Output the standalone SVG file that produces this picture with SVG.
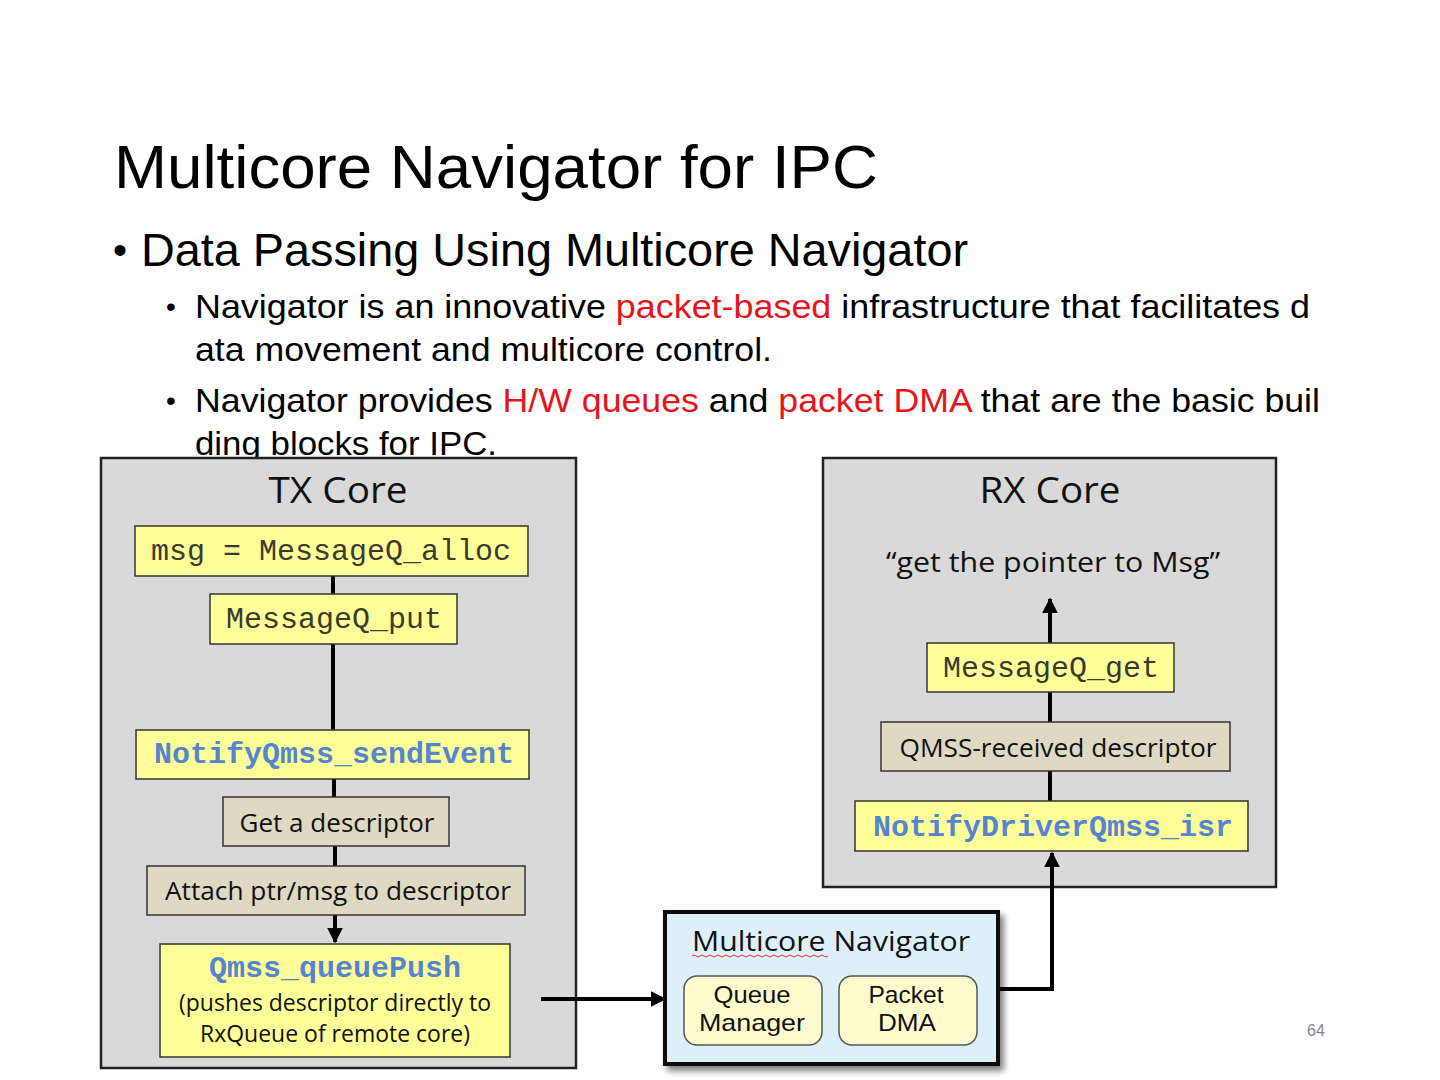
<svg xmlns="http://www.w3.org/2000/svg" width="1440" height="1080" viewBox="0 0 1440 1080">
<defs>
<style>
.slide{font-family:"Liberation Sans","Noto Sans",sans-serif;fill:#000}
.red{fill:#e8141b}
.core{fill:#d9d9d9;stroke:#222;stroke-width:2.5}
.ybox{fill:#ffff99;stroke:#333;stroke-width:1.5}
.tbox{fill:#ddd9c3;stroke:#333;stroke-width:1.5}
.mono{font-family:"Liberation Mono","Courier New",monospace;font-size:30px;fill:#3a3a2e}
.blue{font-family:"Liberation Mono","Courier New",monospace;font-size:30px;font-weight:bold;fill:#5585cf}
.cal{font-family:"Open Sans","Noto Sans",sans-serif;fill:#111}
.sm{font-family:"Liberation Sans","Noto Sans",sans-serif;font-size:24px;fill:#111}
.conn{stroke:#000;stroke-width:4;fill:none}
</style>
<marker id="ah" viewBox="0 0 10 10" refX="9" refY="5" markerWidth="4" markerHeight="4" orient="auto" markerUnits="strokeWidth">
<path d="M0,0 L10,5 L0,10 z" fill="#000"/>
</marker>
<filter id="sh" x="-10%" y="-10%" width="130%" height="130%">
<feGaussianBlur in="SourceAlpha" stdDeviation="3"/>
<feOffset dx="4" dy="5"/>
<feComponentTransfer><feFuncA type="linear" slope="0.5"/></feComponentTransfer>
<feMerge><feMergeNode/><feMergeNode in="SourceGraphic"/></feMerge>
</filter>
</defs>
<rect width="1440" height="1080" fill="#fff"/>

<g id="title">
<text class="slide" x="114" y="188" font-size="62" textLength="764" lengthAdjust="spacingAndGlyphs">Multicore Navigator for IPC</text>
</g>
<g id="bullets">
<text class="slide" x="113" y="264" font-size="40">•</text>
<text class="slide" x="141" y="266" font-size="46" textLength="827" lengthAdjust="spacingAndGlyphs">Data Passing Using Multicore Navigator</text>
<text class="slide" x="166" y="316" font-size="28">•</text>
<text class="slide" x="195" y="318" font-size="34" textLength="1115" lengthAdjust="spacingAndGlyphs">Navigator is an innovative <tspan class="red">packet-based</tspan> infrastructure that facilitates d</text>
<text class="slide" x="195" y="361" font-size="34" textLength="577" lengthAdjust="spacingAndGlyphs">ata movement and multicore control.</text>
<text class="slide" x="166" y="410" font-size="28">•</text>
<text class="slide" x="195" y="412" font-size="34" textLength="1125" lengthAdjust="spacingAndGlyphs">Navigator provides <tspan class="red">H/W queues</tspan> and <tspan class="red">packet DMA</tspan> that are the basic buil</text>
<text class="slide" x="195" y="455" font-size="34" textLength="302" lengthAdjust="spacingAndGlyphs">ding blocks for IPC.</text>
</g>

<g id="tx-core">
<rect class="core" x="101" y="458" width="475" height="610"/>
<text class="cal" x="338" y="503" font-size="36" text-anchor="middle" textLength="139" lengthAdjust="spacingAndGlyphs">TX Core</text>
</g>
<g id="rx-core">
<rect class="core" x="823" y="458" width="453" height="429"/>
<text class="cal" x="1050" y="503" font-size="36" text-anchor="middle" textLength="141" lengthAdjust="spacingAndGlyphs">RX Core</text>
<text class="cal" x="1053" y="572" font-size="28" text-anchor="middle" textLength="334" lengthAdjust="spacingAndGlyphs">“get the pointer to Msg”</text>
</g>

<g id="connectors">
<line class="conn" x1="333" y1="576" x2="333" y2="594"/>
<line class="conn" x1="333" y1="644" x2="333" y2="730"/>
<line class="conn" x1="334" y1="779" x2="334" y2="797"/>
<line class="conn" x1="335" y1="846" x2="335" y2="866"/>
<line class="conn" x1="335" y1="915" x2="335" y2="942" marker-end="url(#ah)"/>
<line class="conn" x1="541" y1="999" x2="665" y2="999" marker-end="url(#ah)"/>
<polyline class="conn" points="998,989 1052,989 1052,853" marker-end="url(#ah)"/>
<line class="conn" x1="1050" y1="801" x2="1050" y2="771"/>
<line class="conn" x1="1050" y1="722" x2="1050" y2="692"/>
<line class="conn" x1="1050" y1="643" x2="1050" y2="599" marker-end="url(#ah)"/>
</g>

<g id="alloc">
<rect class="ybox" x="135" y="526" width="393" height="50"/>
<text class="mono" x="331" y="560" text-anchor="middle">msg = MessageQ_alloc</text>
</g>
<g id="put">
<rect class="ybox" x="210" y="594" width="247" height="50"/>
<text class="mono" x="334" y="628" text-anchor="middle">MessageQ_put</text>
</g>
<g id="sendEvent">
<rect class="ybox" x="136" y="730" width="393" height="49"/>
<text class="blue" x="334" y="763" text-anchor="middle">NotifyQmss_sendEvent</text>
</g>
<g id="getdesc">
<rect class="tbox" x="223" y="797" width="226" height="49"/>
<text class="cal" x="337" y="832" font-size="26" text-anchor="middle" textLength="195" lengthAdjust="spacingAndGlyphs">Get a descriptor</text>
</g>
<g id="attach">
<rect class="tbox" x="147" y="866" width="378" height="49"/>
<text class="cal" x="338" y="900" font-size="26" text-anchor="middle" textLength="346" lengthAdjust="spacingAndGlyphs">Attach ptr/msg to descriptor</text>
</g>
<g id="queuePush">
<rect class="ybox" x="160" y="944" width="350" height="113"/>
<text class="blue" x="335" y="977" text-anchor="middle">Qmss_queuePush</text>
<text class="cal" x="335" y="1011" font-size="23" text-anchor="middle" textLength="312" lengthAdjust="spacingAndGlyphs">(pushes descriptor directly to</text>
<text class="cal" x="335" y="1042" font-size="23" text-anchor="middle" textLength="270" lengthAdjust="spacingAndGlyphs">RxQueue of remote core)</text>
</g>

<g id="navigator">
<rect x="665" y="912" width="333" height="152" fill="#ddf0fa" stroke="#111" stroke-width="4" filter="url(#sh)"/>
<text class="cal" x="831" y="951" font-size="28" text-anchor="middle" textLength="278" lengthAdjust="spacingAndGlyphs">Multicore Navigator</text>
<path d="M692,956 q2,-2 4,0 t4,0 t4,0 t4,0 t4,0 t4,0 t4,0 t4,0 t4,0 t4,0 t4,0 t4,0 t4,0 t4,0 t4,0 t4,0 t4,0 t4,0 t4,0 t4,0 t4,0 t4,0 t4,0 t4,0 t4,0 t4,0 t4,0 t4,0 t4,0 t4,0 t4,0 t4,0 t4,0 t4,0" fill="none" stroke="#e03030" stroke-width="1"/>
</g>
<g id="queue-manager">
<rect x="684" y="976" width="138" height="69" rx="13" fill="#fefccc" stroke="#555" stroke-width="1.5"/>
<text class="sm" x="752" y="1003" text-anchor="middle" textLength="77" lengthAdjust="spacingAndGlyphs">Queue</text>
<text class="sm" x="752" y="1031" text-anchor="middle" textLength="106" lengthAdjust="spacingAndGlyphs">Manager</text>
</g>
<g id="packet-dma">
<rect x="839" y="976" width="138" height="69" rx="13" fill="#fefccc" stroke="#555" stroke-width="1.5"/>
<text class="sm" x="906" y="1003" text-anchor="middle" textLength="75" lengthAdjust="spacingAndGlyphs">Packet</text>
<text class="sm" x="907" y="1031" text-anchor="middle" textLength="58" lengthAdjust="spacingAndGlyphs">DMA</text>
</g>

<g id="msgget">
<rect class="ybox" x="927" y="643" width="247" height="49"/>
<text class="mono" x="1051" y="677" text-anchor="middle">MessageQ_get</text>
</g>
<g id="qmss-received">
<rect class="tbox" x="881" y="722" width="349" height="49"/>
<text class="cal" x="1058" y="757" font-size="26" text-anchor="middle" textLength="317" lengthAdjust="spacingAndGlyphs">QMSS-received descriptor</text>
</g>
<g id="isr">
<rect class="ybox" x="855" y="801" width="393" height="50"/>
<text class="blue" x="1053" y="836" text-anchor="middle">NotifyDriverQmss_isr</text>
</g>

<text x="1316" y="1036" font-family="Liberation Sans, sans-serif" font-size="16" fill="#888" text-anchor="middle">64</text>
</svg>
